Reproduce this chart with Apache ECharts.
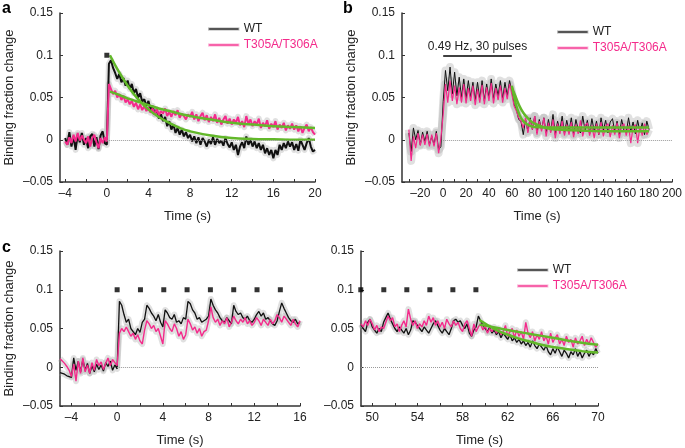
<!DOCTYPE html>
<html><head><meta charset="utf-8">
<script src="https://cdn.jsdelivr.net/npm/echarts@6/dist/echarts.min.js"></script>
<style>html,body{margin:0;padding:0;background:#fff}#c{width:685px;height:448px}</style>
</head><body><div id="c"></div><script>
// ---------- Panel a (t = -4 .. 20, step 0.2 s) ----------
const aStart = -4, aStep = 0.2;
const aWT = [
 0.002,-0.006,0.009,-0.008,0.004,-0.012,0.006,-0.003,0.008,-0.006,
 0.002,-0.010,0.004,0.007,-0.008,0.003,-0.011,0.005,0.010,-0.004,
 -0.006,0.090,0.094,0.085,0.079,0.072,0.078,0.068,0.073,0.064,
 0.070,0.060,0.066,0.055,0.060,0.050,0.055,0.045,0.048,0.040,
 0.046,0.035,0.040,0.030,0.036,0.025,0.030,0.022,0.027,0.016,
 0.022,0.012,0.018,0.008,0.014,0.006,0.012,0.004,0.009,0.002,
 0.006,-0.002,0.004,-0.004,0.003,-0.006,0.002,-0.002,-0.008,0.000,
 -0.005,0.003,-0.006,0.001,-0.004,-0.001,-0.007,0.002,-0.005,-0.009,
 -0.003,-0.012,-0.006,-0.018,-0.008,-0.003,-0.010,0.004,-0.006,0.000,
 -0.008,-0.002,-0.010,-0.004,-0.012,-0.006,-0.016,-0.010,-0.018,-0.012,
 -0.022,-0.012,-0.018,-0.006,-0.012,-0.004,-0.010,-0.002,-0.008,-0.003,
 -0.012,-0.005,-0.013,0.000,-0.006,-0.012,-0.004,0.002,-0.008,-0.014,
 -0.012];
const aMut = [
 -0.002,-0.006,0.003,-0.004,0.006,-0.002,0.008,-0.001,0.005,0.000,
 -0.004,0.004,-0.008,0.002,0.006,-0.003,-0.010,0.002,-0.004,0.003,
 -0.002,0.066,0.060,0.054,0.058,0.050,0.054,0.047,0.052,0.044,
 0.048,0.042,0.046,0.039,0.044,0.036,0.042,0.035,0.040,0.034,
 0.038,0.032,0.037,0.030,0.036,0.029,0.034,0.031,0.037,0.028,
 0.033,0.027,0.034,0.029,0.035,0.026,0.031,0.028,0.024,0.030,
 0.027,0.033,0.024,0.030,0.022,0.028,0.032,0.023,0.029,0.021,
 0.027,0.022,0.030,0.020,0.026,0.018,0.024,0.028,0.019,0.025,
 0.018,0.024,0.020,0.027,0.017,0.022,0.015,0.028,0.019,0.024,
 0.016,0.022,0.018,0.025,0.014,0.020,0.016,0.023,0.013,0.019,
 0.015,0.022,0.012,0.018,0.014,0.020,0.011,0.017,0.013,0.019,
 0.012,0.017,0.010,0.016,0.008,0.014,0.018,0.010,0.015,0.009,
 0.006];
const aFitWTt = [0.3,1,2,3,4,5,6,7,8,10,12,14,16,18,20];
const aFitWTv = [0.100,0.084,0.064,0.048,0.036,0.027,0.020,0.014,0.010,0.005,0.002,0.001,0.0005,0,0];
const aFitMutt = [0.3,1,2,3,4,5,6,8,10,12,14,16,18,20];
const aFitMutv = [0.057,0.054,0.049,0.045,0.041,0.037,0.034,0.028,0.024,0.020,0.018,0.016,0.015,0.014];
const aPulse = [0];

// ---------- Panel b (t = -30 .. 180, step 2 s) ----------
const bStart = -30, bStep = 2;
const bWT = [
 0.008,-0.014,0.014,0.000,0.011,-0.006,0.009,-0.002,0.010,-0.006,
 0.004,-0.006,0.010,-0.012,-0.008,0.045,0.082,0.058,0.086,0.054,
 0.080,0.052,0.074,0.050,0.072,0.048,0.070,0.050,0.068,0.046,
 0.068,0.048,0.070,0.046,0.066,0.050,0.072,0.048,0.066,0.052,
 0.070,0.048,0.068,0.052,0.070,0.058,0.042,0.036,0.024,0.022,
 0.006,0.024,0.010,0.026,0.012,0.028,0.008,0.024,0.012,0.026,
 0.008,0.024,0.010,0.030,0.006,0.022,0.011,0.028,0.007,0.023,
 0.010,0.026,0.006,0.024,0.012,0.008,0.028,0.011,0.023,0.007,
 0.025,0.010,0.022,0.006,0.026,0.011,0.023,0.008,0.021,0.025,
 0.009,0.022,0.006,0.024,0.011,0.008,0.026,0.010,0.021,0.007,
 0.023,0.009,0.020,0.006,0.022,0.012];
const bMut = [
 0.012,-0.025,0.004,-0.010,0.008,-0.007,0.006,-0.006,0.007,-0.008,
 0.006,-0.008,0.008,-0.016,0.002,0.030,0.066,0.044,0.070,0.046,
 0.064,0.042,0.062,0.044,0.066,0.043,0.061,0.046,0.064,0.041,
 0.060,0.044,0.065,0.042,0.062,0.046,0.067,0.043,0.061,0.047,
 0.064,0.044,0.061,0.048,0.066,0.054,0.040,0.034,0.026,0.022,
 0.014,0.026,0.008,0.024,0.012,0.028,0.006,0.022,0.010,0.026,
 0.004,0.020,0.008,0.024,0.002,0.019,0.007,0.022,0.005,0.018,
 0.006,0.021,0.003,0.018,0.007,0.023,0.004,0.017,0.020,0.005,
 0.017,0.002,0.019,0.006,0.021,0.004,0.016,0.019,0.003,0.017,
 0.006,0.020,0.002,0.016,0.019,0.005,0.017,-0.004,0.015,0.018,
 -0.004,0.016,0.005,0.019,0.006,0.012];
const bFit1t = [60,63,66,70,75,80,90,120,180];
const bFit1v = [0.064,0.045,0.032,0.022,0.017,0.015,0.0145,0.0145,0.0145];
const bFit2t = [60,63,66,70,75,80,90,100,120,150,180];
const bFit2v = [0.062,0.052,0.042,0.032,0.024,0.019,0.014,0.012,0.011,0.010,0.010];
const bStim = [0, 60];
const bStimLevel = 0.1;
const bStimText = '0.49 Hz, 30 pulses';

// ---------- Panel c left (t = -5 .. 16, step 0.2 s) ----------
const cLStart = -5, cLStep = 0.2;
const cLWT = [
 -0.007,-0.008,-0.009,-0.011,-0.012,-0.013,0.012,-0.004,0.008,-0.006,
 0.010,-0.004,0.005,-0.008,0.002,-0.006,0.004,-0.003,0.003,-0.005,
 0.006,0.001,0.008,-0.004,0.003,-0.002,0.085,0.080,0.068,0.058,
 0.062,0.050,0.046,0.042,0.050,0.045,0.058,0.062,0.080,0.076,
 0.070,0.066,0.060,0.068,0.058,0.052,0.074,0.070,0.064,0.062,
 0.068,0.058,0.060,0.056,0.064,0.062,0.085,0.082,0.074,0.070,
 0.062,0.064,0.058,0.060,0.062,0.066,0.088,0.080,0.074,0.070,
 0.064,0.060,0.058,0.064,0.060,0.056,0.080,0.072,0.068,0.070,
 0.064,0.062,0.066,0.060,0.058,0.062,0.068,0.072,0.066,0.070,
 0.062,0.064,0.060,0.056,0.054,0.060,0.072,0.083,0.076,0.070,
 0.064,0.060,0.058,0.062,0.056,0.058];
const cLMut = [
 0.011,0.008,0.005,0.001,-0.004,-0.012,0.004,-0.018,0.008,-0.008,
 0.012,-0.006,0.003,-0.008,0.006,-0.004,0.010,0.002,0.007,-0.003,
 0.005,0.012,0.002,0.010,0.006,0.002,0.044,0.050,0.046,0.052,
 0.046,0.040,0.044,0.036,0.042,0.034,0.030,0.048,0.060,0.056,
 0.050,0.054,0.046,0.050,0.040,0.030,0.060,0.056,0.050,0.046,
 0.056,0.050,0.040,0.046,0.036,0.042,0.062,0.056,0.048,0.052,
 0.044,0.050,0.040,0.046,0.048,0.060,0.078,0.064,0.058,0.062,
 0.054,0.060,0.056,0.064,0.052,0.058,0.066,0.060,0.056,0.062,
 0.058,0.064,0.056,0.060,0.054,0.058,0.064,0.060,0.054,0.062,
 0.058,0.054,0.062,0.056,0.060,0.068,0.064,0.058,0.066,0.062,
 0.058,0.054,0.062,0.056,0.052,0.060];
const cLPulse = [0,2.04,4.08,6.12,8.16,10.2,12.24,14.28];

// ---------- Panel c right (t = 49 .. 70, step 0.2 s) ----------
const cRStart = 49, cRStep = 0.2;
const cRWT = [
 0.055,0.050,0.046,0.058,0.062,0.052,0.048,0.044,0.050,0.046,
 0.058,0.064,0.070,0.062,0.056,0.050,0.046,0.052,0.048,0.044,
 0.050,0.042,0.048,0.060,0.058,0.054,0.050,0.046,0.052,0.048,
 0.044,0.050,0.056,0.060,0.054,0.048,0.044,0.050,0.046,0.042,
 0.050,0.060,0.062,0.058,0.060,0.054,0.050,0.056,0.044,0.040,
 0.048,0.052,0.066,0.060,0.054,0.050,0.046,0.052,0.044,0.048,
 0.042,0.046,0.038,0.044,0.040,0.036,0.042,0.034,0.038,0.032,
 0.036,0.030,0.034,0.028,0.032,0.026,0.034,0.028,0.024,0.030,
 0.026,0.022,0.028,0.020,0.016,0.024,0.018,0.026,0.020,0.014,
 0.022,0.018,0.012,0.020,0.016,0.024,0.014,0.020,0.012,0.018,
 0.022,0.014,0.020,0.016,0.024,0.018];
const cRMut = [
 0.056,0.052,0.060,0.054,0.062,0.056,0.048,0.054,0.046,0.052,
 0.050,0.058,0.066,0.060,0.064,0.052,0.056,0.046,0.054,0.060,
 0.052,0.075,0.062,0.054,0.060,0.050,0.056,0.052,0.060,0.054,
 0.066,0.058,0.064,0.054,0.060,0.052,0.058,0.050,0.062,0.056,
 0.052,0.060,0.054,0.058,0.050,0.046,0.056,0.060,0.050,0.040,
 0.056,0.046,0.052,0.056,0.048,0.054,0.044,0.050,0.046,0.052,
 0.044,0.050,0.042,0.046,0.054,0.040,0.046,0.050,0.038,0.048,
 0.040,0.046,0.036,0.058,0.044,0.038,0.046,0.034,0.042,0.036,
 0.046,0.034,0.040,0.030,0.044,0.032,0.038,0.042,0.030,0.036,
 0.028,0.040,0.032,0.036,0.026,0.038,0.030,0.034,0.040,0.028,
 0.036,0.030,0.038,0.032,0.026,0.030];
const cRFitWTt = [59.5,61,62,63,64,65,66,67,68,69,70];
const cRFitWTv = [0.061,0.048,0.042,0.037,0.033,0.029,0.026,0.024,0.022,0.020,0.019];
const cRFitMutt = [59.5,61,62,64,66,68,70];
const cRFitMutv = [0.055,0.051,0.048,0.043,0.038,0.033,0.029];
const cRPulse = [48.98,51.02,53.06,55.1,57.14,59.18];
const pulseLevel = 0.1;

// tick labels
const yTicks = [-0.05,0,0.05,0.1,0.15];
const aXLabels = [-4,0,4,8,12,16,20], aXTicks = [-4,-2,0,2,4,6,8,10,12,14,16,18,20];
const bXLabels = [-20,0,20,40,60,80,100,120,140,160,180,200];
const bXTicks = [-30,-20,-10,0,10,20,30,40,50,60,70,80,90,100,110,120,130,140,150,160,170,180,190,200];
const cLXLabels = [-4,0,4,8,12,16], cLXTicks = [-4,-2,0,2,4,6,8,10,12,14,16];
const cRXLabels = [50,54,58,62,66,70], cRXTicks = [50,52,54,56,58,60,62,64,66,68,70];
const zeroSpans = [[0,20],[0,200],[0,16],[49,70]];

// ---------- build ----------
const PINK = '#f42a8b', BLACK = '#111', GREEN = '#62b82a';
const FONT = '"Liberation Sans", Arial, sans-serif';
function pts(start, step, vals){ return vals.map((v,i)=>[+(start+i*step).toFixed(3), v]); }
function pairs(t, v){ return t.map((x,i)=>[x, v[i]]); }
function fmt(v){ const r = Math.round(v*1000)/1000; return r < 0 ? '\u2013' + (-r) : String(r); }

const grids = [
  {left:60, top:13, width:255, height:169},
  {left:402, top:13, width:271, height:169},
  {left:60, top:251, width:240, height:159},
  {left:361, top:251, width:237, height:159}
];
const xr = [[-4.5,20,aXLabels,aXTicks],[-36,200,bXLabels,bXTicks],[-5,16,cLXLabels,cLXTicks],[49,70,cRXLabels,cRXTicks]];
const axisLine = {show:true, onZero:false, lineStyle:{color:'#333', width:1.5}};
const xAxis = xr.map((r,i)=>({
  gridIndex:i, type:'value', min:r[0], max:r[1],
  name:'Time (s)', nameLocation:'middle', nameGap:28,
  nameTextStyle:{fontSize:13, color:'#222', fontFamily:FONT},
  axisLine, splitLine:{show:false},
  axisTick:{show:true, inside:true, length:3, customValues:r[3], lineStyle:{color:'#333'}},
  axisLabel:{customValues:r[2], formatter:fmt, fontSize:12, color:'#222', fontFamily:FONT, margin:6, showMinLabel:true, showMaxLabel:true}
}));
const yAxis = grids.map((g,i)=>({
  gridIndex:i, type:'value', min:-0.05, max:0.15,
  name: i===3 ? '' : 'Binding fraction change', nameLocation:'middle', nameGap:44,
  nameTextStyle:{fontSize:13, color:'#222', fontFamily:FONT},
  axisLine, splitLine:{show:false},
  axisTick:{show:true, inside:true, length:3, customValues:yTicks, lineStyle:{color:'#333'}},
  axisLabel:{customValues:yTicks, formatter:fmt, fontSize:12, color:'#222', fontFamily:FONT, margin:7}
}));

function band(xi, data, w, extra){
  return Object.assign({name:'sem'+xi, type:'line', xAxisIndex:xi, yAxisIndex:xi, data, symbol:'none', showSymbol:false,
    lineStyle:{color:'rgba(160,160,160,0.32)', width:w, join:'round'}, silent:true, z:2}, extra||{});
}
function trace(name, xi, data, color, w){
  return {name, type:'line', xAxisIndex:xi, yAxisIndex:xi, data, symbol:'none', showSymbol:false,
    lineStyle:{color, width:w}, itemStyle:{color}, silent:true, z:3};
}
function fit(xi, data){
  return {name:'fit'+xi, type:'line', xAxisIndex:xi, yAxisIndex:xi, data, smooth:true, symbol:'none',
    lineStyle:{color:GREEN, width:2.5}, silent:true, z:4};
}
function pulses(xi, t){
  return {name:'pulse'+xi, type:'scatter', xAxisIndex:xi, yAxisIndex:xi, data:t.map(x=>[x,pulseLevel]),
    symbol:'rect', symbolSize:5, itemStyle:{color:'#000'}, silent:true, clip:false, z:5};
}
function zeroLine(i){
  return {symbol:'none', silent:true, label:{show:false}, lineStyle:{type:'dotted', color:'#999', width:1},
    data:[[{coord:[zeroSpans[i][0],0]},{coord:[zeroSpans[i][1],0]}]]};
}

const series = [
  // a
  band(0, pts(aStart,aStep,aWT), 6, {markLine:zeroLine(0)}),
  band(0, pts(aStart,aStep,aMut), 6),
  trace('WT', 0, pts(aStart,aStep,aWT), BLACK, 2),
  trace('T305A/T306A', 0, pts(aStart,aStep,aMut), PINK, 2),
  fit(0, pairs(aFitWTt,aFitWTv)), fit(0, pairs(aFitMutt,aFitMutv)),
  pulses(0, aPulse),
  // b
  band(1, pts(bStart,bStep,bWT), 8, {markLine:zeroLine(1)}),
  band(1, pts(bStart,bStep,bMut), 8, {markLine:{symbol:'none', silent:true,
     lineStyle:{type:'solid', color:'#000', width:1.5},
     label:{show:true, position:'middle', formatter:bStimText, color:'#222', fontSize:12, fontFamily:FONT, distance:3},
     data:[[{coord:[bStim[0],bStimLevel]},{coord:[bStim[1],bStimLevel]}]]}}),
  trace('WT', 1, pts(bStart,bStep,bWT), BLACK, 1),
  trace('T305A/T306A', 1, pts(bStart,bStep,bMut), PINK, 1.2),
  fit(1, pairs(bFit1t,bFit1v)), fit(1, pairs(bFit2t,bFit2v)),
  // c left
  band(2, pts(cLStart,cLStep,cLWT), 6, {markLine:zeroLine(2)}),
  band(2, pts(cLStart,cLStep,cLMut), 6),
  trace('WT', 2, pts(cLStart,cLStep,cLWT), BLACK, 1.3),
  trace('T305A/T306A', 2, pts(cLStart,cLStep,cLMut), PINK, 1.4),
  pulses(2, cLPulse),
  // c right
  band(3, pts(cRStart,cRStep,cRWT), 6, {markLine:zeroLine(3)}),
  band(3, pts(cRStart,cRStep,cRMut), 6),
  trace('WT', 3, pts(cRStart,cRStep,cRWT), BLACK, 1.3),
  trace('T305A/T306A', 3, pts(cRStart,cRStep,cRMut), PINK, 1.4),
  fit(3, pairs(cRFitWTt,cRFitWTv)), fit(3, pairs(cRFitMutt,cRFitMutv)),
  pulses(3, cRPulse)
];

function legend(left, top){
  return {left, top, padding:0, orient:'vertical', itemWidth:30, itemHeight:2, itemGap:4, icon:'rect', selectedMode:false,
    textStyle:{fontSize:12, fontFamily:FONT},
    data:[
      {name:'WT', textStyle:{color:'#222'}, itemStyle:{color:'#111', borderColor:'rgba(170,170,170,0.6)', borderWidth:1.5}},
      {name:'T305A/T306A', textStyle:{color:PINK}, itemStyle:{color:PINK, borderColor:'rgba(250,170,210,0.6)', borderWidth:1.5}}
    ]};
}

const chart = echarts.init(document.getElementById('c'), null, {renderer:'canvas'});
chart.setOption({
  animation:false,
  backgroundColor:'#fff',
  title:[
    {text:'a', left:2, top:1, padding:0, textStyle:{fontSize:16, fontWeight:'bold', color:'#000', fontFamily:FONT}},
    {text:'b', left:343, top:1, padding:0, textStyle:{fontSize:16, fontWeight:'bold', color:'#000', fontFamily:FONT}},
    {text:'c', left:2, top:240, padding:0, textStyle:{fontSize:16, fontWeight:'bold', color:'#000', fontFamily:FONT}}
  ],
  legend:[legend(208,23), legend(557,26), legend(517,264)],
  grid:grids,
  xAxis, yAxis, series
});
</script></body></html>
